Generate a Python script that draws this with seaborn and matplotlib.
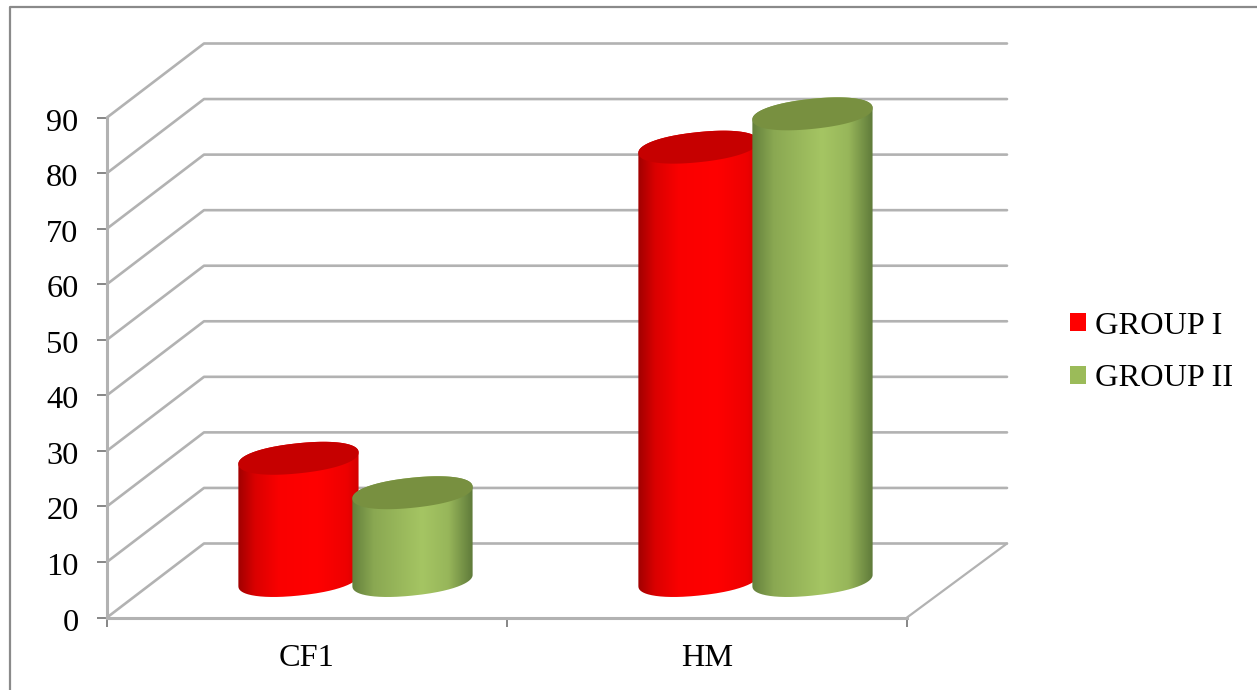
import numpy as np
import pandas as pd
import matplotlib
matplotlib.use("Agg")
import matplotlib.pyplot as plt
from matplotlib.colors import LinearSegmentedColormap
from matplotlib.lines import Line2D
from matplotlib.patches import Patch, Polygon
from matplotlib.path import Path
from matplotlib.transforms import ScaledTranslation, offset_copy
import seaborn as sns

CATEGORIES = ["CF1", "HM"]
GROUP_NAMES = ["GROUP I", "GROUP II"]
GROUP_I = [22.0, 78.0]
GROUP_II = [15.8, 84.0]
Y_TICKS = list(range(0, 100, 10))

W, H = 1257, 690
sns.set_theme(style="white")
plt.rcParams["font.family"] = ["Liberation Serif", "DejaVu Serif"]
TEXT_SIZE = 23.3
LINE = "#b2b2b2"
TICK = "#868686"

fig = plt.figure(figsize=(W / 100, H / 100), dpi=100, facecolor="white")
ax = fig.add_axes([107 / W, (H - 617.5) / H, 800 / W, 500 / H], facecolor="none")

df = pd.DataFrame({
    "category": CATEGORIES * 2,
    "group": [GROUP_NAMES[0]] * 2 + [GROUP_NAMES[1]] * 2,
    "value": GROUP_I + GROUP_II,
})
palette = {GROUP_NAMES[0]: "#ff0000", GROUP_NAMES[1]: "#9bbb59"}
sns.barplot(data=df, x="category", y="value", hue="group", hue_order=GROUP_NAMES,
            palette=palette, width=0.57, gap=-0.06, legend=False, ax=ax, zorder=3)
ax.set_xlim(-0.5, 1.5)
ax.set_ylim(0, 90)
ax.set_xlabel("")
ax.set_ylabel("")

# Scale factors from data units to dots, and the depth of the 3-D box
px_x = 800 / 2
px_y = 500 / 90
depth_x = 97 / px_x
depth_y = 74 / px_y
back_right = 1.75

# Walls and floor of the box
for v in Y_TICKS:
    ax.plot([-0.5, -0.5 + depth_x, back_right], [v, v + depth_y, v + depth_y],
            color=LINE, lw=1.9, clip_on=False, zorder=1, solid_joinstyle="round")
ax.plot([1.5, back_right], [0, depth_y], color=LINE, lw=1.6, clip_on=False, zorder=1)

# Axes
for side in ("top", "right"):
    ax.spines[side].set_visible(False)
for side in ("left", "bottom"):
    ax.spines[side].set_color(LINE)
    ax.spines[side].set_linewidth(2.2)
ax.set_yticks(Y_TICKS)
ax.set_xticks([-0.5, 0.5, 1.5])
ax.set_xticklabels([])
ax.set_xticks([0, 1], CATEGORIES, minor=True)
ax.tick_params(axis="y", length=7.5, width=1.4, color=TICK, left=True, pad=13,
               labelsize=TEXT_SIZE, labelcolor="black")
ax.tick_params(axis="x", which="major", length=6.5, width=1.4, color=TICK, bottom=True)
ax.tick_params(axis="x", which="minor", length=0, pad=19,
               labelsize=TEXT_SIZE, labelcolor="black")

# The numbers sit a little below their tick marks
nudge = ScaledTranslation(0, -4 / 72, fig.dpi_scale_trans)
for label in ax.get_yticklabels():
    label.set_verticalalignment("center")
    label.set_transform(label.get_transform() + nudge)

# Cylinders replace the flat bars, standing halfway into the box
red_cmap = LinearSegmentedColormap.from_list("red_body", [
    (0.0, "#a00000"), (0.14, "#da0000"), (0.34, "#fa0000"), (0.65, "#ff0000"),
    (0.9, "#ee0000"), (1.0, "#d40000")])
green_cmap = LinearSegmentedColormap.from_list("green_body", [
    (0.0, "#64803c"), (0.18, "#8aa852"), (0.58, "#a5c563"),
    (0.8, "#97b65a"), (1.0, "#5f7a3a")])
styles = [(red_cmap, "#c60000"), (green_cmap, "#789040")]

lift = offset_copy(ax.transData, fig=fig, x=48.5, y=37, units="dots")
tilt = np.radians(6.0)
ry_px = 15.0
roundness = 0.92
gradient = np.linspace(0, 1, 256).reshape(1, -1)

for i, bar in enumerate(list(ax.patches)):
    bar.set_visible(False)
    cmap, cap_color = styles[i // 2]
    x0, width, value = bar.get_x(), bar.get_width(), bar.get_height()
    xc = x0 + width / 2
    rx_px = width * px_x / 2

    def rim(t, level):
        c = np.sign(np.cos(t)) * np.abs(np.cos(t)) ** roundness
        s = np.sign(np.sin(t)) * np.abs(np.sin(t)) ** roundness
        ex = rx_px * c * np.cos(tilt) - ry_px * s * np.sin(tilt)
        ey = rx_px * c * np.sin(tilt) + ry_px * s * np.cos(tilt)
        return np.column_stack([xc + ex / px_x, level + ey / px_y])

    # Points on the rim where the sides of the cylinder touch it
    t_grid = np.linspace(-np.pi / 2, 3 * np.pi / 2, 721)
    xs = rim(t_grid, 0)[:, 0]
    t_right, t_left = t_grid[np.argmax(xs)], t_grid[np.argmin(xs)]
    lower = rim(np.linspace(t_left, t_right + 2 * np.pi, 120), 0)
    upper = rim(np.linspace(t_right, t_left, 120), value)
    outline = np.vstack([lower, upper])

    body = ax.imshow(gradient, cmap=cmap, aspect="auto", interpolation="bilinear",
                     extent=(x0, x0 + width, -5, value + 5), transform=lift,
                     zorder=3 + i // 2 * 0.5)
    body.set_clip_path(Path(outline), lift)
    body.set_clip_box(fig.bbox)
    cap = rim(np.linspace(0, 2 * np.pi, 240), value)
    ax.add_patch(Polygon(cap, closed=True, facecolor=cap_color, edgecolor="none",
                         transform=lift, clip_on=False, zorder=3.1 + i // 2 * 0.5))

ax.set_xlim(-0.5, 1.5)
ax.set_ylim(0, 90)

# Legend
handles = [Patch(facecolor=palette[g], edgecolor="none") for g in GROUP_NAMES]
fig.legend(handles, GROUP_NAMES, loc="center left", frameon=False,
           bbox_to_anchor=(1070 / W, (H - 352.5) / H), borderaxespad=0, borderpad=0,
           handlelength=0.49, handleheight=0.49, handletextpad=0.28,
           labelspacing=0.72, fontsize=TEXT_SIZE, labelcolor="black")

# Outer chart frame
fig.add_artist(Line2D([10 / W, 10 / W, 1], [0, (H - 7) / H, (H - 7) / H],
                      color="#8a8a8a", lw=1.6, transform=fig.transFigure))

fig.savefig("out.png", dpi=100, facecolor="white")
